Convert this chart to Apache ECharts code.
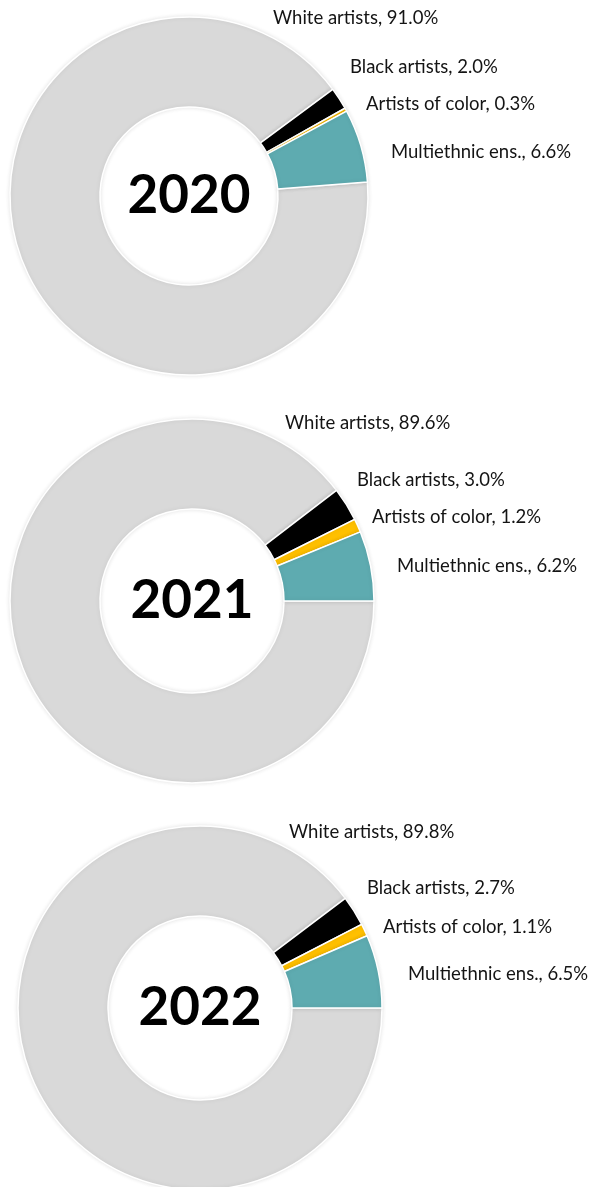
<!DOCTYPE html>
<html>
<head>
<meta charset="utf-8">
<script src="https://cdn.jsdelivr.net/npm/echarts@6/dist/echarts.min.js"></script>
<style>
  html, body { margin: 0; padding: 0; background: #ffffff; }
  #chart { width: 602px; height: 1187px; }
</style>
</head>
<body>
<div id="chart"></div>
<script>
// Shares of performing artists by group, one donut per season year
const categories = ['White artists', 'Black artists', 'Artists of color', 'Multiethnic ens.'];
const years = ['2020', '2021', '2022'];
const values2020 = [91.0, 2.0, 0.3, 6.6];
const values2021 = [89.6, 3.0, 1.2, 6.2];
const values2022 = [89.8, 2.7, 1.1, 6.5];
const seriesValues = [values2020, values2021, values2022];

// Styling and placement
const sliceColors = ['#d9d9d9', '#000000', '#ffc000', '#5eabb0'];
const centers = [[189, 196], [192, 601], [200, 1008]];
const radii = [[89, 179], [92, 182], [92, 182]];
const startAngles = [4.5, 0, 0];
// left edge x and middle y of each slice label, per donut
const labelAnchors = [
  [[273, 18], [350, 67], [366, 104], [391, 152]],
  [[285, 423], [357, 480], [372, 517], [397, 566]],
  [[289, 832], [367, 888], [383, 927], [408, 974]]
];
const FONT = 'Lato, "Open Sans", "DejaVu Sans", sans-serif';

const chart = echarts.init(document.getElementById('chart'), null, { renderer: 'canvas' });

const series = seriesValues.map((vals, s) => ({
  type: 'pie',
  name: years[s],
  center: centers[s],
  radius: radii[s],
  startAngle: startAngles[s],
  clockwise: true,
  avoidLabelOverlap: false,
  silent: true,
  animation: false,
  itemStyle: {
    borderColor: '#ffffff',
    borderWidth: 1.5,
    shadowBlur: 4,
    shadowColor: 'rgba(0,0,0,0.10)'
  },
  label: {
    show: true,
    position: 'outside',
    color: '#141414',
    fontFamily: FONT,
    fontSize: 18.5,
    formatter: p => `${p.name}, ${p.value.toFixed(1)}%`
  },
  labelLine: { show: false },
  labelLayout: p => ({
    x: labelAnchors[s][p.dataIndex][0],
    y: labelAnchors[s][p.dataIndex][1],
    align: 'left',
    verticalAlign: 'middle',
    hideOverlap: false
  }),
  data: categories.map((name, i) => ({
    name,
    value: vals[i],
    itemStyle: { color: sliceColors[i] }
  }))
}));

// Year captions in the donut holes
const graphic = years.map((y, s) => ({
  type: 'text',
  x: centers[s][0],
  y: centers[s][1],
  style: {
    text: y,
    fill: '#000000',
    font: `bold 53px ${FONT}`,
    textAlign: 'center',
    textVerticalAlign: 'middle'
  },
  z: 100
}));

chart.setOption({
  backgroundColor: '#ffffff',
  animation: false,
  series,
  graphic
});
</script>
</body>
</html>
